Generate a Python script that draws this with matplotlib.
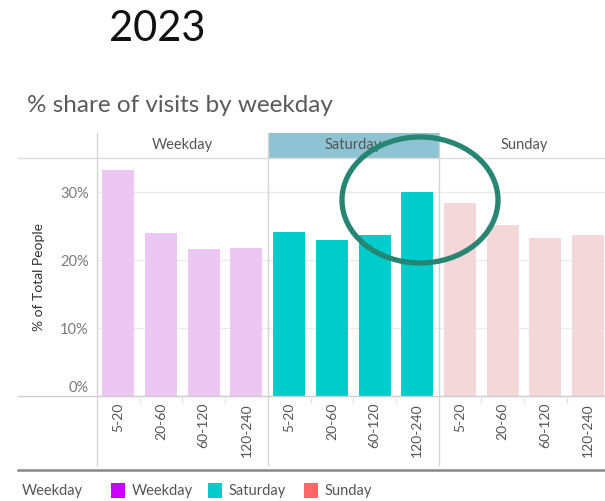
import matplotlib
matplotlib.use("Agg")
import matplotlib.pyplot as plt
import matplotlib.transforms as mtransforms
from matplotlib.patches import Rectangle, Ellipse
from matplotlib.lines import Line2D
from matplotlib.ticker import FuncFormatter

plt.rcParams['font.family'] = ['Lato', 'DejaVu Sans']

groups = ["Weekday", "Saturday", "Sunday"]
durations = ["5-20", "20-60", "60-120", "120-240"]
weekday_share = [33.3, 23.9, 21.6, 21.7]
saturday_share = [24.1, 22.9, 23.7, 30.0]
sunday_share = [28.4, 25.2, 23.3, 23.7]
y_ticks = [0, 10, 20, 30]

bar_colors = {"Weekday": "#ECC7F3", "Saturday": "#00CCCC", "Sunday": "#F4D7D8"}
legend_colors = {"Weekday": "#CC00FF", "Saturday": "#00CCCC", "Sunday": "#FF6666"}

W, H = 605, 501
fig = plt.figure(figsize=(W / 100, H / 100), dpi=100)

def fx(px):
    return px / W

def fy(py):
    return 1 - py / H

# main axes
ax_left, ax_right, ax_top, ax_bot = 97, 605, 158, 396
ax = fig.add_axes([fx(ax_left), fy(ax_bot), fx(ax_right - ax_left), (ax_bot - ax_top) / H])
series = [weekday_share, saturday_share, sunday_share]
xs_all = []
for gi, (g, vals) in enumerate(zip(groups, series)):
    xs = [gi * len(durations) + i for i in range(len(durations))]
    xs_all += xs
    ax.bar(xs, vals, width=0.75, color=bar_colors[g], zorder=2)

slot = 42.7
ax.set_xlim(-0.5, (ax_right - ax_left) / slot - 0.5)
ax.set_ylim(0, 35)
ax.set_yticks(y_ticks)
ax.yaxis.set_major_formatter(FuncFormatter(lambda v, p: f"{int(v)}%"))
ax.tick_params(axis='y', length=0, labelsize=10.5, labelcolor="#7A7A7A", pad=6)
ax.set_xticks(xs_all)
ax.set_xticklabels(durations * 3, rotation=90, fontsize=10, color="#555555", va='top')
ax.tick_params(axis='x', length=0, pad=5)
for s in ax.spines.values():
    s.set_visible(False)
ax.grid(axis='y', color="#EBEBEB", lw=1, zorder=0)
ax.set_ylabel("% of Total People", fontsize=10, color="#333333", labelpad=11)

# lift the 0% label above the baseline
fig.canvas.draw()
zero_lbl = ax.get_yticklabels()[0]
zero_lbl.set_transform(zero_lbl.get_transform() +
                       mtransforms.ScaledTranslation(0, 9 / 100, fig.dpi_scale_trans))

# figure-level lines
def hline(y, x0, x1, color, lw):
    fig.add_artist(Line2D([fx(x0), fx(x1)], [fy(y), fy(y)], color=color, lw=lw, transform=fig.transFigure))

def vline(x, y0, y1, color, lw):
    fig.add_artist(Line2D([fx(x), fx(x)], [fy(y0), fy(y1)], color=color, lw=lw, transform=fig.transFigure))

# header
header_top = 133
sat_x0 = ax_left + 4 * slot
sat_x1 = ax_left + 8 * slot
fig.add_artist(Rectangle((fx(sat_x0), fy(ax_top)), fx(sat_x1 - sat_x0), (ax_top - header_top) / H,
                         facecolor="#8EC3D3", edgecolor="none", transform=fig.transFigure, zorder=1))
for gi, g in enumerate(groups):
    cx = ax_left + (gi * 4 + 2) * slot
    fig.text(fx(cx), fy((header_top + ax_top) / 2), g, ha='center', va='center',
             fontsize=10.5, color="#555555")

hline(ax_top, 18, 605, "#DDDDDD", 1)
hline(ax_bot, 18, 605, "#CCCCCC", 1)
vline(ax_left, header_top, 465, "#D5D5D5", 1)
vline(sat_x0, header_top, 465, "#D5D5D5", 1)
vline(sat_x1, header_top, 465, "#D5D5D5", 1)
for k in range(1, 12):
    if k % 4 == 0:
        continue
    xk = ax_left + k * slot
    vline(xk, ax_bot, ax_bot + 6, "#E5E5E5", 1)

hline(470, 18, 605, "#888888", 1.8)

# title texts
fig.text(fx(109), fy(29), "2023", fontsize=30, color="#111111", va='center', ha='left')
fig.text(fx(27), fy(106), "% share of visits by weekday", fontsize=17.5, color="#5A5A5A",
         va='center', ha='left')

# legend
fig.text(fx(22), fy(491), "Weekday", fontsize=10.5, color="#555555", va='center')
lx = [111, 208, 304]
for g, x in zip(groups, lx):
    fig.add_artist(Rectangle((fx(x), fy(498)), fx(14), 15 / H, facecolor=legend_colors[g],
                             edgecolor="none", transform=fig.transFigure))
    fig.text(fx(x + 21), fy(491), g, fontsize=10.5, color="#555555", va='center')

# annotation ellipse
fig.add_artist(Ellipse((fx(420), fy(200)), fx(156), 126 / H, fill=False, edgecolor="#278573",
                       lw=3.8, transform=fig.transFigure, zorder=10))

fig.savefig("out.png", dpi=100)
